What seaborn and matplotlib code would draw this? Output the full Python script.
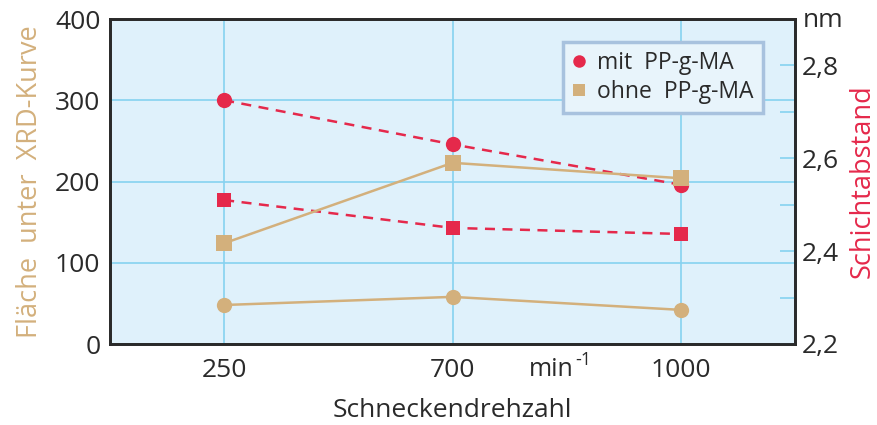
import matplotlib
matplotlib.use("Agg")
import matplotlib.pyplot as plt
from matplotlib.lines import Line2D
from matplotlib.ticker import FixedLocator
import seaborn as sns
import pandas as pd

# ---- data ----
categories = ["250", "700", "1000"]
flaeche_mit = [48, 58, 42]          # left axis, tan circles
flaeche_ohne = [124, 223, 204]      # left axis, tan squares
abstand_mit = [2.725, 2.630, 2.543]  # right axis (nm), red circles
abstand_ohne = [2.510, 2.450, 2.437] # right axis (nm), red squares
left_ticks = [0, 100, 200, 300, 400]
right_ticks = [2.2, 2.4, 2.6, 2.8]
right_labels = ["2,2", "2,4", "2,6", "2,8"]

RED = "#e5294b"
TAN = "#d3b07c"
BG = "#dff1fb"
GRID = "#86d2f0"
DARK = "#2a2a2a"
FS = 19

sns.set_theme(style="white")
plt.rcParams["font.family"] = ["Open Sans", "DejaVu Sans"]

pos = list(range(len(categories)))
df = pd.DataFrame({
    "pos": pos * 4,
    "value": flaeche_mit + flaeche_ohne + abstand_mit + abstand_ohne,
    "series": ["fm"] * 3 + ["fo"] * 3 + ["am"] * 3 + ["ao"] * 3,
})

fig = plt.figure(figsize=(8.77, 4.25), dpi=100)
ax = fig.add_axes([110 / 877, 1 - 344 / 425, 685 / 877, 325 / 425])
ax.set_facecolor(BG)
ax2 = ax.twinx()           # right axis (nm) for red series
ax3 = ax.twinx()           # same scale as left axis, drawn on top for tan series
ax3.set_ylim(0, 400)
ax3.set_yticks([])
ax3.set_ylabel("")


def draw(sub, axis, color, marker, ms, ls):
    sns.lineplot(data=sub, x="pos", y="value", ax=axis, color=color,
                 linestyle=ls, linewidth=1.8)
    sns.scatterplot(data=sub, x="pos", y="value", ax=axis, color=color,
                    marker=marker, s=ms ** 2, linewidth=0, zorder=5)


# red series on right axis
draw(df[df.series == "am"], ax2, RED, "o", 11, (0, (4, 3)))
draw(df[df.series == "ao"], ax2, RED, "s", 10.5, (0, (4, 3)))
# tan series on left scale (top layer)
draw(df[df.series == "fm"], ax3, TAN, "o", 11, "-")
draw(df[df.series == "fo"], ax3, TAN, "s", 11, "-")
ax3.set_ylim(0, 400)
ax3.set_yticks([])
ax3.set_ylabel("")
ax3.set_xlabel("")

# axes limits / ticks
ax.set_xlim(-0.5, len(categories) - 0.5)
ax.set_ylim(0, 400)
ax.set_xticks(pos)
ax.set_xticklabels(categories)
ax.set_yticks(left_ticks)
ax.tick_params(axis="y", length=0, labelsize=FS, colors=DARK, pad=7)
ax.tick_params(axis="x", length=0, labelsize=FS, colors=DARK, pad=10)
ax.grid(True, color=GRID, linewidth=1.2)
ax.set_axisbelow(True)

ax2.set_ylim(2.2, 2.9)
ax2.yaxis.set_major_locator(FixedLocator(right_ticks))
ax2.set_yticklabels(right_labels)
ax2.yaxis.set_minor_locator(FixedLocator([2.3, 2.5, 2.7]))
ax2.tick_params(axis="y", which="both", direction="in", length=11, width=1.2,
                color=GRID, labelsize=FS, labelcolor=DARK, pad=5)
ax2.grid(False)
ax2.set_xlabel("")

for a in (ax, ax2, ax3):
    for s in a.spines.values():
        s.set_color(DARK)
        s.set_linewidth(1.8)

ax.set_xlabel("Schneckendrehzahl", fontsize=FS, color=DARK, labelpad=11)
ax.set_ylabel("Fläche  unter  XRD-Kurve", fontsize=FS + 0.5, color=TAN,
              labelpad=8)
ax2.set_ylabel("Schichtabstand", fontsize=FS + 0.5, color=RED, labelpad=7)

ax2.text(1.012, 0.995, "nm", transform=ax2.transAxes, fontsize=FS, color=DARK,
         ha="left", va="center")
ax.text(1.53, -0.04, "min", transform=ax.get_xaxis_transform(),
        fontsize=FS - 1, color=DARK, ha="right", va="top")
ax.annotate("-1", xy=(1.53, -0.04), xycoords=ax.get_xaxis_transform(),
            xytext=(1, 4), textcoords="offset points", fontsize=FS - 6,
            color=DARK, ha="left", va="top")

handles = [
    Line2D([], [], linestyle="none", marker="o", color=RED, markersize=9,
           markeredgewidth=0, label="mit  PP-g-MA"),
    Line2D([], [], linestyle="none", marker="s", color=TAN, markersize=8,
           markeredgewidth=0, label="ohne  PP-g-MA"),
]
leg = ax3.legend(handles=handles, loc="upper right",
                 bbox_to_anchor=(763 / 877, 1 - 42 / 425),
                 bbox_transform=fig.transFigure, frameon=True, fancybox=False,
                 fontsize=16.5, handlelength=0.6, handletextpad=0.5,
                 borderpad=0.4, labelspacing=0.2, borderaxespad=0)
fr = leg.get_frame()
fr.set_facecolor("#e8f4fb")
fr.set_edgecolor("#a8c2de")
fr.set_linewidth(2.5)
fr.set_alpha(1)
for t in leg.get_texts():
    t.set_color(DARK)

fig.savefig("out.png", dpi=100)
